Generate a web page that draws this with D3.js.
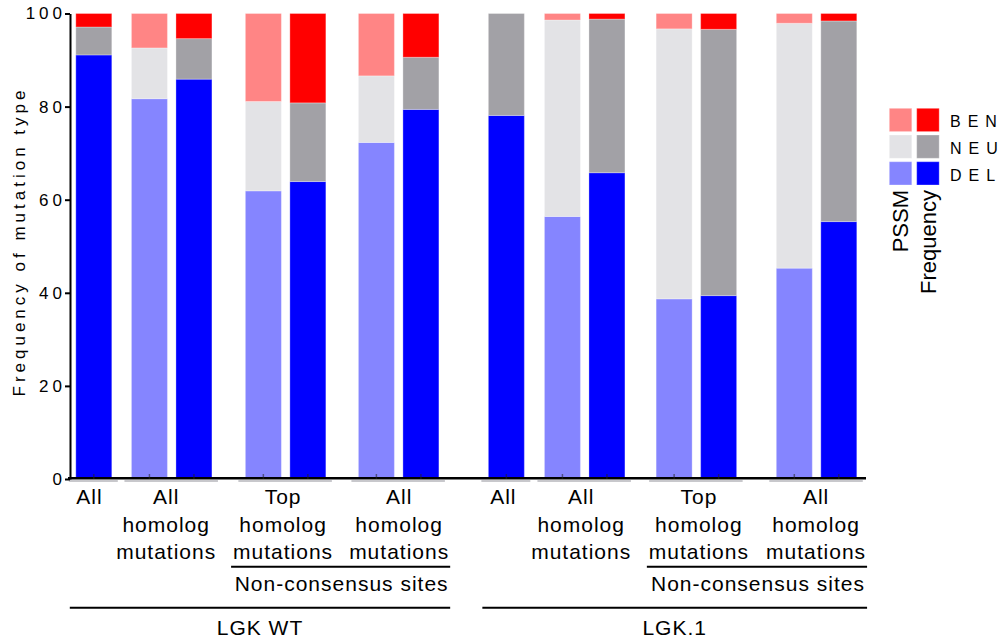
<!DOCTYPE html>
<html>
<head>
<meta charset="utf-8">
<script src="https://cdn.jsdelivr.net/npm/d3@7"></script>
<style>
  html, body { margin: 0; padding: 0; background: #fff; }
  svg { display: block; font-family: "Liberation Sans", Arial, Helvetica, sans-serif; }
</style>
</head>
<body>
<svg id="chart" width="1002" height="641"></svg>
<script>
// ---- data: share of each mutation type (percent) per bar ----
const groupNames = ["LGK WT", "LGK.1"];
const barGroup = ["LGK WT", "LGK WT", "LGK WT", "LGK WT", "LGK WT", "LGK WT", "LGK WT",
                  "LGK.1", "LGK.1", "LGK.1", "LGK.1", "LGK.1", "LGK.1", "LGK.1"];
const barCategory = ["all", "allHomolog", "allHomolog", "topHomologNC", "topHomologNC", "allHomologNC", "allHomologNC",
                     "all", "allHomolog", "allHomolog", "topHomologNC", "topHomologNC", "allHomologNC", "allHomologNC"];
const barMethod = ["Frequency", "PSSM", "Frequency", "PSSM", "Frequency", "PSSM", "Frequency",
                   "Frequency", "PSSM", "Frequency", "PSSM", "Frequency", "PSSM", "Frequency"];
const delValues = [91.1, 81.7, 85.9, 61.9, 63.9, 72.3, 79.4, 78.1, 56.4, 65.8, 38.7, 39.4, 45.3, 55.3];
const neuValues = [6.0, 10.9, 8.7, 19.2, 16.9, 14.3, 11.2, 21.9, 42.2, 33.0, 58.0, 57.2, 52.6, 43.1];
const benValues = [2.9, 7.4, 5.4, 18.9, 19.2, 13.4, 9.4, 0.0, 1.4, 1.2, 3.3, 3.4, 2.1, 1.6];

const categoryKeys = ["all", "allHomolog", "topHomologNC", "allHomologNC"];
const categoryLabels = [["All"], ["All", "homolog", "mutations"], ["Top", "homolog", "mutations"], ["All", "homolog", "mutations"]];
const subgroupLabel = "Non-consensus sites";
const subgroupCategories = ["topHomologNC", "allHomologNC"];
const typeKeys = ["DEL", "NEU", "BEN"];
const legendRows = ["BEN", "NEU", "DEL"];
const methodNames = ["PSSM", "Frequency"];
const yTicks = [0, 20, 40, 60, 80, 100];
const yTitle = "Frequency of mutation type";

// ---- styling ----
const palette = {
  PSSM:      { DEL: "#8585ff", NEU: "#e3e3e6", BEN: "#ff8585" },
  Frequency: { DEL: "#0000ff", NEU: "#a2a1a6", BEN: "#ff0000" }
};

// spacing (in bar steps) before each bar
const stepBefore = [0, 1.25, 1, 1.56, 1, 1.54, 1, 1.92, 1.26, 1, 1.51, 1, 1.70, 1];
const labelNudge = [-4.3, -5.5, -2.5, 0.5, -3, -3.5, 2.5, -0.5];
const barWidth = 36;

const svg = d3.select("#chart");

// ---- scales ----
const slots = [];
stepBefore.reduce((acc, s) => { const v = acc + s; slots.push(v); return v; }, 0);
const x = d3.scaleLinear().domain([0, slots[slots.length - 1]]).range([93.8, 838.8]);
const y = d3.scaleLinear().domain([0, 100]).range([479, 13.5]);
const cx = i => x(slots[i]);

// ---- stacked bars ----
const rows = delValues.map((d, i) => ({ DEL: d, NEU: neuValues[i], BEN: benValues[i] }));
const stacked = d3.stack().keys(typeKeys)(rows);

// faint shadow line under each bar
svg.append("g").selectAll("line")
  .data(d3.range(rows.length))
  .join("line")
  .attr("x1", i => cx(i) - barWidth / 2 - 7)
  .attr("x2", i => cx(i) + barWidth / 2 + 6)
  .attr("y1", 481).attr("y2", 481)
  .attr("stroke", "#c8c8cc").attr("stroke-width", 2);

svg.append("g").selectAll("g")
  .data(stacked)
  .join("g")
  .selectAll("rect")
  .data(layer => layer.map((seg, i) => ({ key: layer.key, i, y0: seg[0], y1: seg[1] })).filter(d => d.y1 > d.y0))
  .join("rect")
  .attr("x", d => cx(d.i) - barWidth / 2)
  .attr("width", barWidth)
  .attr("y", d => y(d.y1))
  .attr("height", d => y(d.y0) - y(d.y1))
  .attr("fill", d => palette[barMethod[d.i]][d.key])
  .attr("stroke", "#ffffff").attr("stroke-opacity", 0.3).attr("stroke-width", 1);

// ---- axes ----
const yAxis = svg.append("g")
  .attr("transform", "translate(70,0)")
  .call(d3.axisLeft(y).tickValues(yTicks).tickSize(5).tickSizeOuter(0));
yAxis.select(".domain").attr("stroke", "#000").attr("stroke-width", 2);
yAxis.selectAll(".tick line").attr("stroke", "#000").attr("stroke-width", 2);
yAxis.selectAll(".tick text")
  .attr("x", -4)
  .attr("fill", "#000")
  .style("font-size", "17px")
  .style("letter-spacing", "4px")
  .style("font-family", "'Liberation Sans', Arial, sans-serif");

svg.append("text")
  .attr("transform", `translate(25,${(395 + 88) / 2}) rotate(-90)`)
  .attr("text-anchor", "middle")
  .style("font-size", "17px")
  .style("letter-spacing", "4px")
  .text(yTitle);

// x baseline
svg.append("line")
  .attr("x1", 68).attr("x2", 866)
  .attr("y1", y(0) - 0.7).attr("y2", y(0) - 0.7)
  .attr("stroke", "#000").attr("stroke-width", 2.5);

// small ticks at bar centres
svg.append("g").selectAll("line")
  .data(d3.range(rows.length))
  .join("line")
  .attr("x1", cx).attr("x2", cx)
  .attr("y1", y(0) - 5).attr("y2", y(0))
  .attr("stroke", "#222").attr("stroke-opacity", 0.55).attr("stroke-width", 1.5);

// ---- category labels ----
const labelFont = { size: "21px", spacing: "1px" };
const labelBaselines = [504, 531.7, 559.4];
const labelNodes = {};
let k = 0;
groupNames.forEach(g => {
  categoryKeys.forEach((c, ci) => {
    const idx = d3.range(rows.length).filter(i => barGroup[i] === g && barCategory[i] === c);
    const center = d3.mean(idx, cx) + labelNudge[k++];
    const t = svg.append("text")
      .attr("text-anchor", "middle")
      .style("font-size", labelFont.size)
      .style("letter-spacing", labelFont.spacing);
    categoryLabels[ci].forEach((line, li) => {
      t.append("tspan").attr("x", center).attr("y", labelBaselines[li]).text(line);
    });
    labelNodes[g + "|" + c] = t.node();
  });
});

// ---- brackets: non-consensus subgroup and cell-line groups ----
groupNames.forEach(g => {
  const boxes = subgroupCategories.map(c => labelNodes[g + "|" + c].getBBox());
  const left = d3.min(boxes, b => b.x) - 2;
  const right = d3.max(boxes, b => b.x + b.width) + 1;
  svg.append("line")
    .attr("x1", left).attr("x2", right).attr("y1", 566.7).attr("y2", 566.7)
    .attr("stroke", "#000").attr("stroke-width", 2);
  svg.append("text")
    .attr("x", (left + right) / 2 + 1).attr("y", 590.7)
    .attr("text-anchor", "middle")
    .style("font-size", labelFont.size)
    .style("letter-spacing", labelFont.spacing)
    .text(subgroupLabel);

  const first = d3.min(d3.range(rows.length).filter(i => barGroup[i] === g));
  const gLeft = cx(first) - barWidth / 2 - 6;
  svg.append("line")
    .attr("x1", gLeft).attr("x2", right).attr("y1", 607.7).attr("y2", 607.7)
    .attr("stroke", "#000").attr("stroke-width", 2);
  svg.append("text")
    .attr("x", (gLeft + right) / 2).attr("y", 635)
    .attr("text-anchor", "middle")
    .style("font-size", labelFont.size)
    .style("letter-spacing", labelFont.spacing)
    .text(g);
});

// ---- legend ----
const legend = svg.append("g").attr("transform", "translate(889.3,108.3)");
const swW = 22.5, swH = 23.3, colStep = 27.4, rowStep = 26.7;
legendRows.forEach((key, r) => {
  methodNames.forEach((m, c) => {
    legend.append("rect")
      .attr("x", c * colStep).attr("y", r * rowStep)
      .attr("width", swW).attr("height", swH)
      .attr("fill", palette[m][key])
      .attr("stroke", "#ffffff").attr("stroke-opacity", 0.3);
  });
  // spaced-out letters; no trailing gap after the last one
  const t = legend.append("text")
    .attr("x", 60.7).attr("y", r * rowStep + 19.2)
    .style("font-size", "16px");
  t.append("tspan").style("letter-spacing", "7px").text(key.slice(0, -1));
  t.append("tspan").style("letter-spacing", "0px").text(key.slice(-1));
});
methodNames.forEach((m, c) => {
  legend.append("text")
    .attr("transform", `translate(${c * colStep + 19},${190 - 108.3}) rotate(-90)`)
    .attr("text-anchor", "end")
    .style("font-size", "22px")
    .text(m);
});
</script>
</body>
</html>
